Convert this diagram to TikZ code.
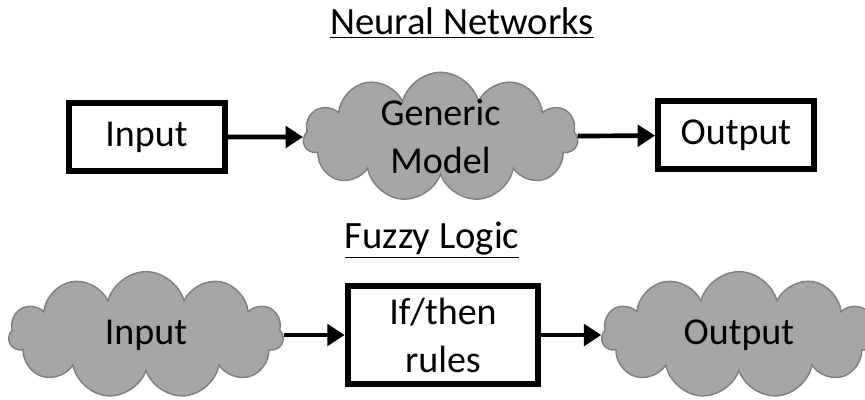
\documentclass[tikz,border=0pt]{standalone}
\usepackage{fontspec}
\setmainfont{Carlito}
\usetikzlibrary{arrows.meta, positioning, shapes.symbols}

\begin{document}
\begin{tikzpicture}[x=0.75pt, y=-0.75pt, font=\fontsize{28.5}{36}\selectfont]
  \tikzset{
    title/.style={font=\fontsize{29}{34}\selectfont},
    box/.style={draw=black, line width=4.5pt, minimum width=117pt, minimum height=51pt, text centered},
    puff/.style={cloud, cloud puffs=11, draw=black!50, fill=black!35, line width=1.1pt, aspect=2.1, minimum width=206pt, minimum height=95pt, inner sep=0pt, align=center},
    arr/.style={-{Triangle[length=13pt,width=16pt]}, line width=3.5pt}
  }
  \useasboundingbox (0,0) rectangle (865,400);

  \node[title] (nn) at (462,23) {\underline{Neural Networks}};
  \node[box] (in) at (146.5,137) {Input};
  \node[puff, minimum height=97pt, label={[align=center]center:{Generic\\Model}}] (gm) at (440.5,137) {};
  \node[box] (out) at (736,135) {Output};

  \node[title] (fl) at (432,240) {\underline{Fuzzy Logic}};
  \node[puff] (cin) at (146,335) {Input};
  \node[box, minimum width=143pt, minimum height=73pt, align=center] (rules) [right=45.75pt of cin] {If/then\\rules};
  \node[puff] (cout) [right=45pt of rules] {Output};

  \path[arr] (in) edge (gm);
  \path[arr] (gm) edge (out);
  \path[arr] (cin) edge (rules);
  \path[arr] (rules) edge (cout);

\end{tikzpicture}
\end{document}
